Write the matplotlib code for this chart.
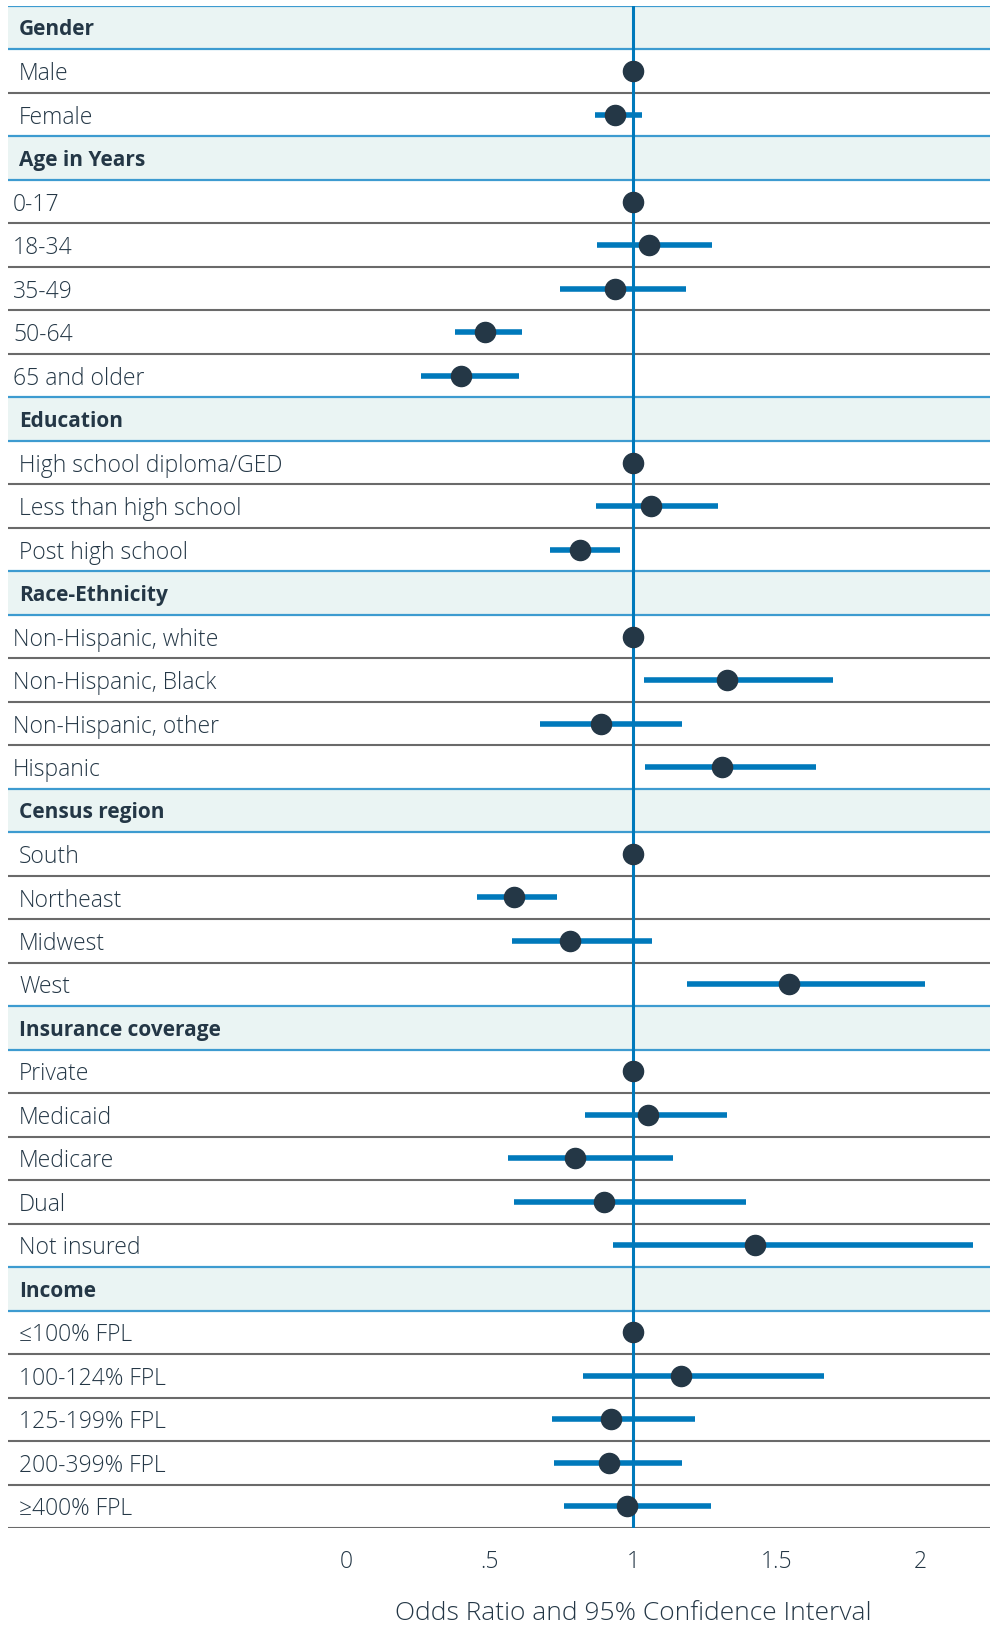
import numpy as np
import matplotlib.pyplot as plt
import matplotlib.transforms as mtransforms

plt.rcParams['font.family'] = ['Open Sans', 'DejaVu Sans']

## data
labels = ["Gender", "Male", "Female",
          "Age in Years", "0-17", "18-34", "35-49", "50-64", "65 and older",
          "Education", "High school diploma/GED", "Less than high school", "Post high school",
          "Race-Ethnicity", "Non-Hispanic, white", "Non-Hispanic, Black", "Non-Hispanic, other", "Hispanic",
          "Census region", "South", "Northeast", "Midwest", "West",
          "Insurance coverage", "Private", "Medicaid", "Medicare", "Dual", "Not insured",
          "Income", "\u2264100% FPL", "100-124% FPL", "125-199% FPL", "200-399% FPL", "\u2265400% FPL"]
is_header = [1, 0, 0,
             1, 0, 0, 0, 0, 0,
             1, 0, 0, 0,
             1, 0, 0, 0, 0,
             1, 0, 0, 0, 0,
             1, 0, 0, 0, 0, 0,
             1, 0, 0, 0, 0, 0]
odds = [None, 1, 0.939,
        None, 1, 1.055, 0.938, 0.485, 0.401,
        None, 1, 1.061, 0.816,
        None, 1, 1.329, 0.890, 1.309,
        None, 1, 0.585, 0.780, 1.545,
        None, 1, 1.051, 0.797, 0.899, 1.425,
        None, 1, 1.166, 0.924, 0.917, 0.979]
ci_low = [None, None, 0.867,
          None, None, 0.873, 0.746, 0.380, 0.262,
          None, None, 0.870, 0.711,
          None, None, 1.038, 0.676, 1.043,
          None, None, 0.458, 0.578, 1.188,
          None, None, 0.834, 0.565, 0.586, 0.929,
          None, None, 0.827, 0.718, 0.726, 0.759]
ci_high = [None, None, 1.030,
           None, None, 1.276, 1.185, 0.612, 0.602,
           None, None, 1.296, 0.953,
           None, None, 1.697, 1.171, 1.638,
           None, None, 0.736, 1.065, 2.018,
           None, None, 1.329, 1.139, 1.392, 2.183,
           None, None, 1.664, 1.217, 1.170, 1.273]
xticks = [0, 0.5, 1, 1.5, 2]
xticklabels = ["0", ".5", "1", "1.5", "2"]
# labels that sit slightly further left in the original
less_indent = {"0-17", "18-34", "35-49", "50-64", "65 and older",
               "Non-Hispanic, white", "Non-Hispanic, Black", "Non-Hispanic, other", "Hispanic"}

navy = "#243746"
blue = "#0079bb"
line_blue = "#3d9bd0"
header_bg = "#eaf4f3"

W, H = 990, 1625
fig = plt.figure(figsize=(W / 100, H / 100), dpi=100)
ax = fig.add_axes([8 / W, 1 - 1528 / H, (990 - 8) / W, (1528 - 6) / H])

n = len(labels)
ax.set_ylim(n, 0)
ax.set_xlim((8 - 346) / 287, (990 - 346) / 287)

trans = mtransforms.blended_transform_factory(ax.transAxes, ax.transData)

for i, lab in enumerate(labels):
    if is_header[i]:
        ax.axhspan(i, i + 1, color=header_bg, zorder=0, lw=0)
        ax.text(11 / 982, i + 0.55, lab, transform=trans, fontsize=15, fontweight='bold',
                color=navy, va='center', ha='left')
    else:
        xoff = 5 / 982 if lab in less_indent else 11 / 982
        ax.text(xoff, i + 0.57, lab, transform=trans, fontsize=16.5, fontweight='light',
                color=navy, va='center', ha='left')

# horizontal separators
for i in range(n + 1):
    above_header = i < n and is_header[i]
    below_header = i > 0 and is_header[i - 1]
    if above_header or below_header or i == 0:
        ax.axhline(i, color=line_blue, lw=1.6, zorder=1)
    else:
        ax.axhline(i, color="#6a6a6a", lw=1.5, zorder=1)

ax.axvline(1, color=blue, lw=2.2, zorder=2)

for i in range(n):
    if odds[i] is None:
        continue
    if ci_low[i] is not None:
        ax.plot([ci_low[i], ci_high[i]], [i + 0.5, i + 0.5], color=blue, lw=4,
                solid_capstyle='butt', zorder=3)
    ax.plot(odds[i], i + 0.5, 'o', color=navy, ms=14.5, zorder=4)

ax.set_xticks(xticks)
ax.set_xticklabels(xticklabels, fontsize=16.5, color=navy, fontweight='light')
ax.tick_params(axis='x', length=0, pad=16)
ax.set_yticks([])
for s in ax.spines.values():
    s.set_visible(False)

fig.text(633 / W, 1 - 1614 / H, "Odds Ratio and 95% Confidence Interval",
         fontsize=19, color=navy, ha='center', va='center', fontweight='light')

fig.savefig("out.png", dpi=100)
